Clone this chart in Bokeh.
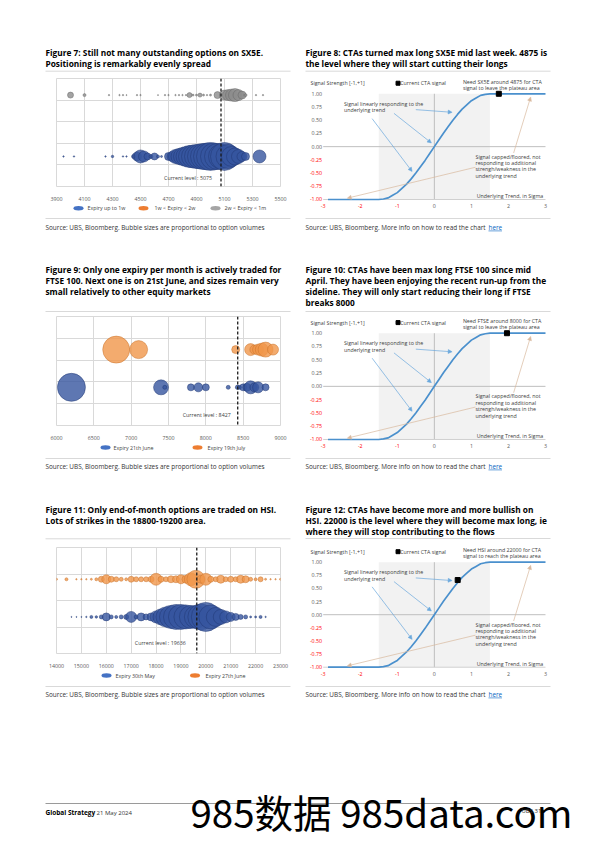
import numpy as np
from bokeh.plotting import figure
from bokeh.models import (Range1d, FixedTicker, Grid, Span, Arrow, NormalHead, Spacer)
from bokeh.layouts import column, row
from bokeh.core.properties import value
from bokeh.embed import file_html
from bokeh.resources import INLINE

FONT = "Open Sans"
WM_FONT = "Noto Sans CJK SC"
TITLE_SIZE = "8.3px"
SMALL = "5.3px"

# ---------------- data ----------------
# Figure 7 : SX5E option volumes by strike (relative volumes, bubble area)
sx5e_x_ticks = [3900, 4100, 4300, 4500, 4700, 4900, 5100, 5300, 5500]
sx5e_current = 5075
sx5e_w1_strikes = [3950, 4025, 4250, 4300, 4375, 4400, 4450, 4475, 4500, 4525, 4550, 4575,
                   4600, 4625, 4650, 4700, 4725, 4750, 4775, 4800, 4825, 4850, 4875, 4900,
                   4925, 4950, 4975, 5000, 5025, 5050, 5075, 5100, 5125, 5150, 5175, 5200,
                   5225, 5250, 5350]
sx5e_w1_volume = [2, 2, 2, 6, 2, 2, 16, 81, 169, 121, 49, 16,
                  49, 9, 4, 64, 100, 196, 256, 324, 400, 484, 529, 576,
                  625, 676, 729, 784, 729, 676, 625, 784, 576, 400, 289, 196,
                  100, 64, 169]
sx5e_w2_strikes = []
sx5e_w2_volume = []
sx5e_m1_strikes = [4000, 4100, 4275, 4350, 4375, 4400, 4475, 4500, 4625, 4675, 4700, 4750,
                   4775, 4800, 4825, 4850, 4875, 4900, 4925, 4950, 4975, 5000, 5050, 5100,
                   5125, 5150, 5175, 5200, 5225, 5250, 5325, 5375]
sx5e_m1_volume = [36, 9, 2, 2, 2, 1, 2, 2, 1, 2, 2, 2,
                  2, 2, 2, 25, 4, 4, 16, 4, 2, 4, 49, 100,
                  121, 144, 169, 121, 64, 9, 2, 2]
sx5e_series = ["Expiry up to 1w", "1w < Expiry < 2w", "2w < Expiry < 1m"]

# Figure 9 : FTSE 100
ftse_x_ticks = [6000, 6500, 7000, 7500, 8000, 8500, 9000]
ftse_current = 8427
ftse_jun_strikes = [6200, 7400, 7450, 7800, 7900, 8000, 8300, 8425, 8450, 8500, 8550, 8600,
                    8650, 8700, 8800]
ftse_jun_volume = [784, 225, 16, 49, 81, 49, 16, 20, 16, 49, 64, 169, 81, 121, 49]
ftse_jul_strikes = [6800, 7100, 8400, 8600, 8650, 8700, 8750, 8800, 8900]
ftse_jul_volume = [729, 324, 64, 144, 81, 121, 169, 225, 121]
ftse_series = ["Expiry 21th June", "Expiry 19th July"]

# Figure 11 : HSI
hsi_x_ticks = [14000, 15000, 16000, 17000, 18000, 19000, 20000, 21000, 22000, 23000]
hsi_current = 19636
hsi_may_strikes = [14600, 14800, 15000, 15200, 15400, 15600, 15800, 16000, 16200, 16400,
                   16600, 16800, 17000, 17200, 17400, 17600, 17800, 18000, 18200, 18400,
                   18600, 18800, 19000, 19200, 19400, 19600, 19800, 20000, 20200, 20400,
                   20600, 20800, 21000, 21200, 21400, 21600, 21800, 22000, 22200, 22400]
hsi_may_volume = [1, 1, 1, 2, 9, 6, 16, 64, 16, 9,
                  16, 25, 121, 16, 64, 36, 64, 144, 256, 400,
                  529, 625, 625, 576, 529, 529, 676, 841, 576, 361,
                  225, 144, 81, 49, 25, 16, 4, 4, 9, 2]
hsi_jun_strikes = [14000, 14400, 14800, 15000, 15200, 15400, 15600, 15800, 16000, 16200,
                   16400, 16600, 16800, 17000, 17200, 17400, 17600, 17800, 18000, 18200,
                   18400, 18600, 18800, 19000, 19200, 19400, 19600, 19800, 20000, 20200,
                   20400, 20600, 20800, 21000, 21200, 21400, 21600, 21800, 22000, 22200,
                   22400, 22600, 22800, 23000]
hsi_jun_volume = [4, 9, 2, 2, 2, 4, 9, 36, 81, 36,
                  25, 16, 9, 36, 25, 25, 25, 36, 144, 36,
                  25, 49, 49, 81, 64, 169, 324, 64, 144, 36,
                  25, 64, 25, 36, 25, 64, 49, 16, 9, 25,
                  4, 2, 2, 4]
hsi_series = ["Expiry 30th May", "Expiry 27th June"]

# CTA signal curve (signal strength vs underlying trend in sigma)
sig_x = [-2.87, -1.5, -1.375, -1.25, -1.125, -1.0, -0.875, -0.75, -0.625, -0.5, -0.375, -0.25,
         -0.125, 0.0, 0.125, 0.25, 0.375, 0.5, 0.625, 0.75, 0.875, 1.0, 1.125, 1.25, 1.375,
         1.5, 3.0]
sig_y = [-1.0, -1.0, -0.99, -0.97, -0.92, -0.87, -0.79, -0.71, -0.61, -0.5, -0.38, -0.26,
         -0.13, 0.0, 0.13, 0.26, 0.38, 0.5, 0.61, 0.71, 0.79, 0.87, 0.92, 0.97, 0.99,
         1.0, 1.0]
plateau_band = [-1.5, 1.5]
cta_y_ticks = [-1.0, -0.75, -0.5, -0.25, 0.0, 0.25, 0.5, 0.75, 1.0]
cta_x_ticks = [-3, -2, -1, 0, 1, 2, 3]
cta_signal_sx5e = (1.74, 1.0)
cta_signal_ftse = (1.96, 1.0)
cta_signal_hsi = (0.63, 0.66)

# ---------------- styles ----------------
GRID = "#D9D9D9"
BLUE, BLUE_LINE = "#36559F", "#1F3772"
ORANGE, ORANGE_LINE = "#F0964A", "#C8712A"
GREY, GREY_LINE = "#8C8C8C", "#666666"
LEG_BLUE, LEG_ORANGE, LEG_GREY = "#4472C4", "#ED7D31", "#A5A5A5"
CURVE = "#4A90CD"
ARROW_BLUE = "#6AA8DC"
ARROW_TAN = "#D9B99E"
AX_GREY = "#595959"
NEG_RED = "#FF0000"


def nofa(p):
    if hasattr(p, "frame_align"):
        p.frame_align = False
    return p


def tfig(w, h):
    p = figure(width=w, height=h, x_range=Range1d(0, w), y_range=Range1d(h, 0),
               output_backend="svg", toolbar_location=None, min_border=0,
               x_axis_location=None, y_axis_location=None, outline_line_color=None)
    p.grid.visible = False
    return nofa(p)


def put(p, x, y, s, size="6px", color="#000000", bold=False, align="left", font=FONT):
    p.text(x=[x], y=[y], text=[s], text_font=value(font), text_font_size=size,
           text_color=color, text_font_style="bold" if bold else "normal",
           text_align=align, text_baseline="middle")


def rule(p, y, x0=3, x1=248, color="#D9D9D9", w=1):
    p.segment(x0=[x0], y0=[y], x1=[x1], y1=[y], line_color=color, line_width=w)


def title(p, lines, y0, dy=11):
    for i, s in enumerate(lines):
        put(p, 3, y0 + i * dy, s, size=TITLE_SIZE, bold=True)


def legend(p, y, items):
    for cx, tx, label, color in items:
        p.ellipse(x=[cx], y=[y], width=10, height=4.5, fill_color=color, line_color=None)
        put(p, tx, y, label, size=SMALL, color="#404040")


def source(p, y, s, link=None, link_x=0):
    put(p, 3, y, s, size="6.4px", color="#333333")
    if link:
        put(p, link_x, y, link, size="6.4px", color="#0563C1")
        p.segment(x0=[link_x], y0=[y + 3.4], x1=[link_x + 13.5], y1=[y + 3.4],
                  line_color="#0563C1", line_width=0.6)


def bubble_fig(h, top, bottom, xr, xticks, ylo, band, nbands):
    yhi = ylo + band * nbands
    p = figure(width=250, height=h, x_range=Range1d(*xr), y_range=Range1d(ylo, yhi),
               min_border_left=14, min_border_right=12, min_border_top=top,
               min_border_bottom=bottom, y_axis_location=None, outline_line_color=GRID,
               output_backend="svg", toolbar_location=None)
    nofa(p)
    ax = p.xaxis[0]
    ax.ticker = FixedTicker(ticks=xticks)
    ax.axis_line_color = None
    ax.major_tick_line_color = None
    ax.minor_tick_line_color = None
    ax.major_label_text_font_size = SMALL
    ax.major_label_text_font = FONT
    ax.major_label_text_color = AX_GREY
    ax.major_label_standoff = 4
    p.center = [r for r in p.center if not isinstance(r, Grid)]
    p.add_layout(Grid(dimension=0, ticker=FixedTicker(ticks=xticks), grid_line_color=GRID))
    p.add_layout(Grid(dimension=1, ticker=FixedTicker(ticks=[ylo + band * i for i in range(nbands + 1)]),
                      grid_line_color=GRID))
    return p


def bubbles(p, xs, vols, yrow, fill, line):
    if not xs:
        return
    p.scatter(x=xs, y=[yrow] * len(xs), size=[float(np.sqrt(v)) for v in vols], marker="circle",
              fill_color=fill, fill_alpha=0.8, line_color=line, line_alpha=0.8, line_width=0.6)


def current_level(p, cur, ylab, xoff):
    p.add_layout(Span(location=cur, dimension="height", line_color="#1A1A1A",
                      line_dash="3 2", line_width=1.3))
    p.text(x=[cur], y=[ylab], text=["Current level : %d" % cur], x_offset=-xoff,
           text_font=value(FONT), text_font_size=SMALL, text_color="#404040",
           text_align="right", text_baseline="middle")


cta_arrows_blue = [(-0.5, 0.70, 0.48, 0.65), (-1.09, 0.63, -0.08, 0.07), (-1.68, 0.53, -0.60, -0.47)]
cta_arrows_tan = [(2.14, -0.12, 2.60, 0.94), (1.11, -0.39, -2.35, -0.975)]


def cta_fig(h, ylo, yhi, marker, need_lines, xlab_y):
    p = figure(width=250, height=h, x_range=Range1d(-3.559, 3.189), y_range=Range1d(ylo, yhi),
               min_border=0, x_axis_location=None, y_axis_location=None,
               outline_line_color=None, output_backend="svg", toolbar_location=None)
    nofa(p)
    p.grid.visible = False
    p.quad(left=[plateau_band[0]], right=[plateau_band[1]], bottom=[-1], top=[1],
           fill_color="#F2F2F2", line_color=None)
    p.segment(x0=[0], y0=[-1], x1=[0], y1=[1], line_color="#BFBFBF", line_width=1)
    p.segment(x0=[-3], y0=[0], x1=[3], y1=[0], line_color="#BFBFBF", line_width=1)
    p.segment(x0=[-3], y0=[-1], x1=[3], y1=[-1], line_color="#D0D0D0", line_width=1)
    p.line(sig_x, sig_y, line_color=CURVE, line_width=1.7)
    for (x0, y0, x1, y1) in cta_arrows_blue:
        p.add_layout(Arrow(end=NormalHead(size=4, fill_color=ARROW_BLUE, line_color=ARROW_BLUE, line_width=0.5),
                           x_start=x0, y_start=y0, x_end=x1, y_end=y1,
                           line_color=ARROW_BLUE, line_width=0.7))
    for (x0, y0, x1, y1) in cta_arrows_tan:
        p.add_layout(Arrow(end=NormalHead(size=4, fill_color=ARROW_TAN, line_color=ARROW_TAN, line_width=0.5),
                           x_start=x0, y_start=y0, x_end=x1, y_end=y1,
                           line_color=ARROW_TAN, line_width=0.7))
    p.scatter(x=[marker[0]], y=[marker[1]], marker="square", size=5, fill_color="black", line_color="black")

    def t(x, y, s, align="left", color="#404040"):
        p.text(x=[x], y=[y], text=[s], text_font=value(FONT), text_font_size=SMALL,
               text_color=color, text_align=align, text_baseline="middle")
    t(-3.343, 1.20, "Signal Strength [-1,+1]")
    p.scatter(x=[-0.98], y=[1.20], marker="square", size=4, fill_color="black", line_color="black")
    t(-0.92, 1.20, "Current CTA signal")
    t(0.77, 1.225, need_lines[0])
    t(0.77, 1.11, need_lines[1])
    t(-2.44, 0.81, "Signal linearly responding to the")
    t(-2.44, 0.685, "underlying trend")
    for i, s in enumerate(["Signal capped/floored, not", "responding to additional",
                           "strengh/weakness in the", "underlying trend"]):
        t(1.11, -0.19 - 0.12 * i, s)
    t(2.94, -0.93, "Underlying Trend, in Sigma", align="right")
    # tick labels (negative values in red, as in the source chart)
    p.text(x=[-3.03] * len(cta_y_ticks), y=cta_y_ticks, text=["%.2f" % v for v in cta_y_ticks],
           text_color=[NEG_RED if v < 0 else AX_GREY for v in cta_y_ticks],
           text_font=value(FONT), text_font_size=SMALL, text_align="right", text_baseline="middle")
    p.text(x=cta_x_ticks, y=[xlab_y] * len(cta_x_ticks), text=["%d" % v for v in cta_x_ticks],
           text_color=[NEG_RED if v < 0 else AX_GREY for v in cta_x_ticks],
           text_font=value(FONT), text_font_size=SMALL, text_align="center", text_baseline="middle")
    return p


# ---------------- left column ----------------
L1 = tfig(250, 69)
title(L1, ["Figure 7: Still not many outstanding options on SX5E.",
           "Positioning is remarkably evenly spread"], 43.7)
rule(L1, 62.7)

C7 = bubble_fig(126, 1, 12, (3900, 5500), sx5e_x_ticks, 0.021, 0.704, 5)
bubbles(C7, sx5e_m1_strikes, sx5e_m1_volume, 3, GREY, GREY_LINE)
bubbles(C7, sx5e_w2_strikes, sx5e_w2_volume, 2, ORANGE, ORANGE_LINE)
bubbles(C7, sx5e_w1_strikes, sx5e_w1_volume, 1, BLUE, BLUE_LINE)
current_level(C7, sx5e_current, 0.30, 9)

L2 = tfig(250, 113)
legend(L2, 4.7, [(36, 45, sx5e_series[0], LEG_BLUE), (101, 112, sx5e_series[1], LEG_ORANGE),
                 (173, 182, sx5e_series[2], LEG_GREY)])
rule(L2, 15)
source(L2, 24, "Source: UBS, Bloomberg. Bubble sizes are proportional to option volumes")
title(L2, ["Figure 9: Only one expiry per month is actively traded for",
           "FTSE 100. Next one is on 21st June, and sizes remain very",
           "small relatively to other equity markets"], 66)
rule(L2, 108)

C9 = bubble_fig(126, 0, 13, (6000, 9000), ftse_x_ticks, -0.012, 0.578, 5)
bubbles(C9, ftse_jul_strikes, ftse_jul_volume, 2, ORANGE, ORANGE_LINE)
bubbles(C9, ftse_jun_strikes, ftse_jun_volume, 1, BLUE, BLUE_LINE)
current_level(C9, ftse_current, 0.26, 7)

L3 = tfig(250, 105)
legend(L3, 5, [(63, 71, ftse_series[0], LEG_BLUE), (155, 165, ftse_series[1], LEG_ORANGE)])
rule(L3, 16)
source(L3, 24, "Source: UBS, Bloomberg. Bubble sizes are proportional to option volumes")
title(L3, ["Figure 11: Only end-of-month options are traded on HSI.",
           "Lots of strikes in the 18800-19200 area."], 67)
rule(L3, 96.3)

C11 = bubble_fig(123, 0, 12, (14000, 23000), hsi_x_ticks, 0.028, 0.704, 4)
bubbles(C11, hsi_jun_strikes, hsi_jun_volume, 2, ORANGE, ORANGE_LINE)
bubbles(C11, hsi_may_strikes, hsi_may_volume, 1, BLUE, BLUE_LINE)
current_level(C11, hsi_current, 0.315, 11)

L4 = tfig(250, 32)
legend(L4, 5, [(64, 73, hsi_series[0], LEG_BLUE), (152.5, 163, hsi_series[1], LEG_ORANGE)])
rule(L4, 16)
source(L4, 24, "Source: UBS, Bloomberg. Bubble sizes are proportional to option volumes")

# ---------------- right column ----------------
SRC_CTA = "Source: UBS, Bloomberg. More info on how to read the chart"

R1 = tfig(250, 65)
title(R1, ["Figure 8: CTAs turned max long SX5E mid last week. 4875 is",
           "the level where they will start cutting their longs"], 43.7)
rule(R1, 62.7)

C8 = cta_fig(139, -1.246, 1.384, cta_signal_sx5e,
             ["Need SX5E around 4875 for CTA", "signal to leave the plateau area"], -1.127)

R2 = tfig(250, 101)
rule(R2, 6)
source(R2, 15, SRC_CTA, "here", 186)
title(R2, ["Figure 10: CTAs have been max long FTSE 100 since mid",
           "April. They have been enjoying the recent run-up from the",
           "sideline. They will only start reducing their long if FTSE",
           "breaks 8000"], 57)
rule(R2, 99)

C10 = cta_fig(139, -1.245, 1.371, cta_signal_ftse,
              ["Need FTSE around 8000 for CTA", "signal to leave the plateau area"], -1.126)

R3 = tfig(250, 88)
rule(R3, 6)
source(R3, 14, SRC_CTA, "here", 186)
title(R3, ["Figure 12: CTAs have become more and more bullish on",
           "HSI. 22000 is the level where they will become max long, ie",
           "where they will stop contributing to the flows"], 57)
rule(R3, 86)

C12 = cta_fig(140, -1.253, 1.413, cta_signal_hsi,
              ["Need HSI around 22000 for CTA", "signal to reach the plateau area"], -1.128)

R4 = tfig(250, 22)
rule(R4, 6)
source(R4, 14, SRC_CTA, "here", 186)

# ---------------- footer ----------------
F = tfig(587, 140)
rule(F, 101, 45, 550, color="#808080", w=0.8)
put(F, 45, 110, "Global Strategy", size="6.5px", bold=True)
put(F, 96, 110, "21 May 2024", size="6px", color="#333333")
put(F, 190, 108, "985数据 985data.com", size="38.5px", font=WM_FONT)
put(F, 521, 108, "UBS  31", size="6px", color="#333333")

left_col = column(L1, C7, L2, C9, L3, C11, L4)
right_col = column(R1, C8, R2, C10, R3, C12, R4)
main = row(Spacer(width=42, height=1), left_col, Spacer(width=10, height=1), right_col)
page = column(Spacer(width=10, height=8), main, F)

open("out.html", "w").write(file_html(page, INLINE))
